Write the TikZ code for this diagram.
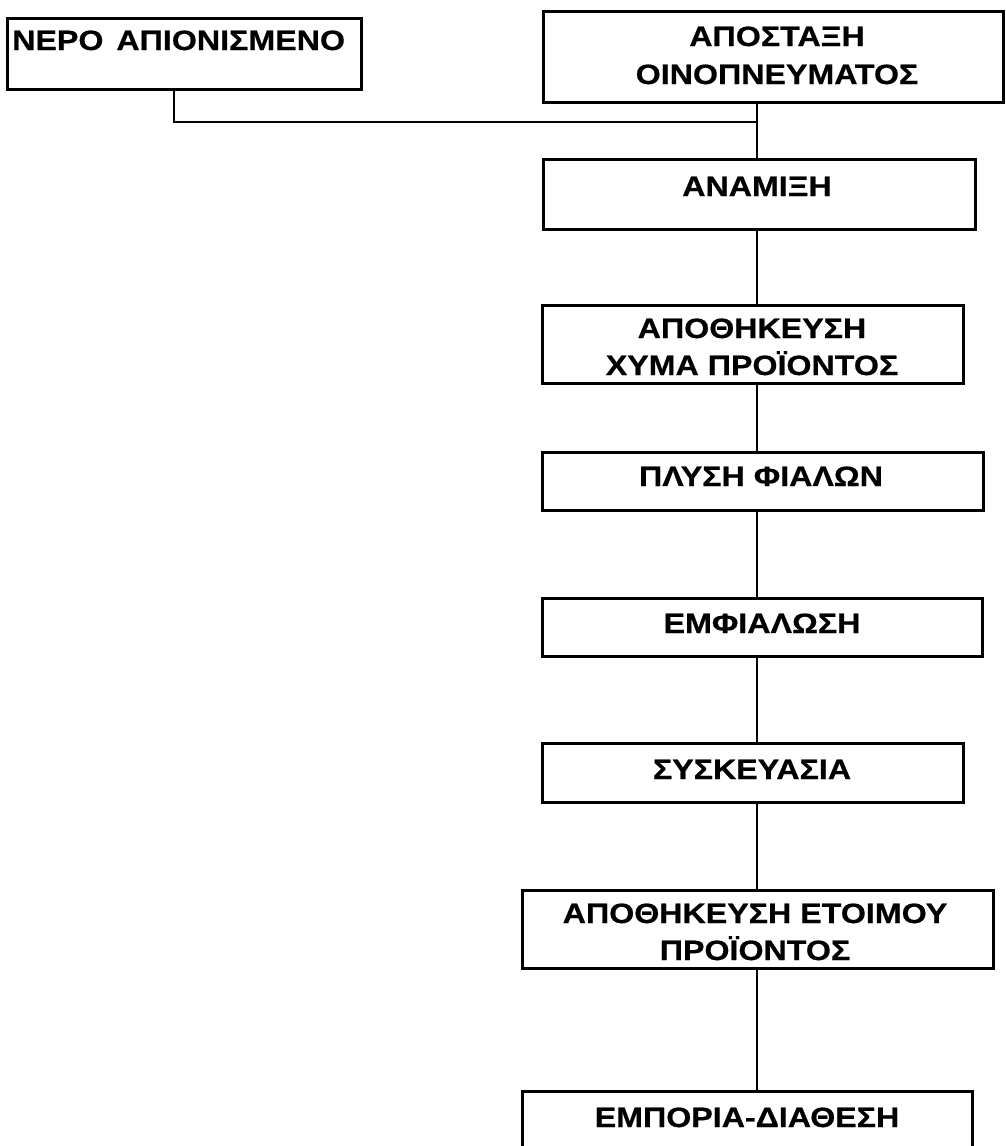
\documentclass[tikz,border=0pt]{standalone}
\usepackage{fontspec}
\newfontfamily\boxfont[FakeStretch=1.15,BoldFeatures={FakeBold=0.6}]{Liberation Sans}
\begin{document}
\begin{tikzpicture}[x=1pt,y=-1pt,
  procbox/.style={draw=black,line width=3pt,rectangle,inner sep=0pt},
  lbl/.style={inner sep=0pt,anchor=base,font=\boxfont\bfseries\fontsize{28}{32}\selectfont},
  link/.style={draw=black,line width=2.6pt}]
\useasboundingbox (0,0) rectangle (1005,1146);
% boxes
\node[procbox,minimum width=354pt,minimum height=71pt] (b1) at (184,53.5) {};
\node[procbox,minimum width=460pt,minimum height=91pt] (b2) at (773,56.5) {};
\node[procbox,minimum width=432pt,minimum height=70pt] (b3) at (759,194) {};
\node[procbox,minimum width=421pt,minimum height=78pt] (b4) at (752.5,344) {};
\node[procbox,minimum width=441pt,minimum height=58pt] (b5) at (762.5,481) {};
\node[procbox,minimum width=440pt,minimum height=58pt] (b6) at (762,627) {};
\node[procbox,minimum width=421pt,minimum height=59pt] (b7) at (752.5,772.5) {};
\node[procbox,minimum width=471pt,minimum height=78pt] (b8) at (757.5,929) {};
\node[procbox,minimum width=450pt,minimum height=80pt] (b9) at (747,1131) {};
% texts
\node[lbl,anchor=base west] (t1) at (12,50) {ΝΕΡΟ\hspace{4pt} ΑΠΙΟΝΙΣΜΕΝΟ};
\node[lbl] (t2a) at (777,46) {ΑΠΟΣΤΑΞΗ};
\node[lbl] (t2b) at (777,84) {ΟΙΝΟΠΝΕΥΜΑΤΟΣ};
\node[lbl] (t3) at (757,196) {ΑΝΑΜΙΞΗ};
\node[lbl] (t4a) at (752,338) {ΑΠΟΘΗΚΕΥΣΗ};
\node[lbl] (t4b) at (752,375) {ΧΥΜΑ ΠΡΟΪΟΝΤΟΣ};
\node[lbl] (t5) at (761,486) {ΠΛΥΣΗ ΦΙΑΛΩΝ};
\node[lbl] (t6) at (762,633) {ΕΜΦΙΑΛΩΣΗ};
\node[lbl] (t7) at (752,779) {ΣΥΣΚΕΥΑΣΙΑ};
\node[lbl] (t8a) at (755,923) {ΑΠΟΘΗΚΕΥΣΗ ΕΤΟΙΜΟΥ};
\node[lbl] (t8b) at (755,960) {ΠΡΟΪΟΝΤΟΣ};
\node[lbl] (t9) at (747,1127) {ΕΜΠΟΡΙΑ-ΔΙΑΘΕΣΗ};
% connectors
\coordinate (j) at (757,122);
\draw[link] ([xshift=-10pt]b1.south) |- (j);
\draw[link] (b2.south -| j) -- (b3.north -| j);
\draw[link] (b3.south -| j) -- (b4.north -| j);
\draw[link] (b4.south -| j) -- (b5.north -| j);
\draw[link] (b5.south -| j) -- (b6.north -| j);
\draw[link] (b6.south -| j) -- (b7.north -| j);
\draw[link] (b7.south -| j) -- (b8.north -| j);
\draw[link] (b8.south -| j) -- (b9.north -| j);
\end{tikzpicture}
\end{document}
